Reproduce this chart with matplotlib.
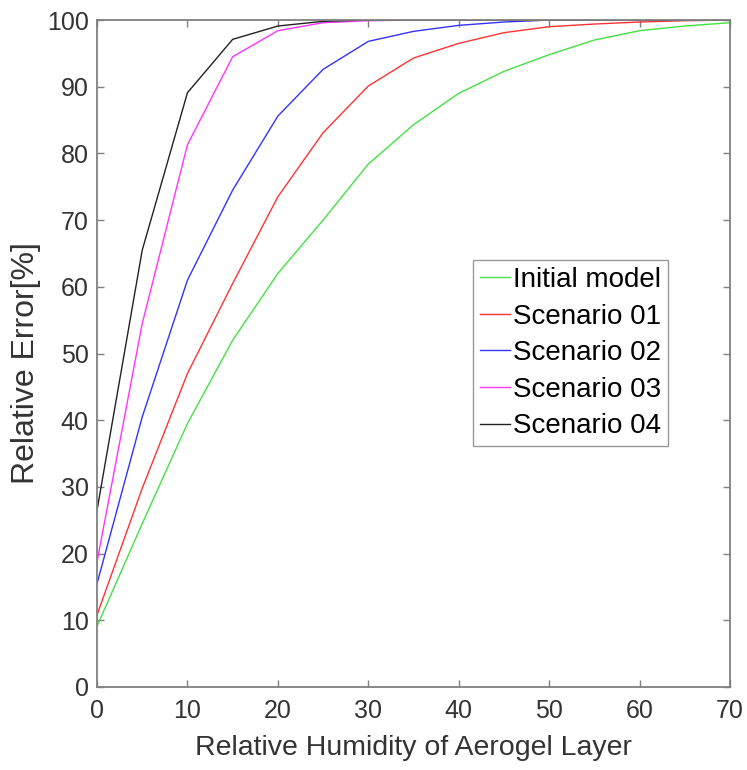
import numpy as np
import matplotlib
matplotlib.use("Agg")
import matplotlib.pyplot as plt

plt.rcParams['font.family'] = ['Liberation Sans', 'DejaVu Sans']

humidity = np.arange(0, 75, 5)

initial_model = [9.1, 24.5, 39.5, 52.0, 62.0, 70.0, 78.4, 84.3, 89.0, 92.3, 94.8, 97.0, 98.4, 99.1, 99.6]
scenario_01 = [10.8, 29.8, 47.0, 60.5, 73.5, 83.1, 90.1, 94.3, 96.5, 98.1, 99.0, 99.4, 99.7, 99.9, 100.0]
scenario_02 = [15.5, 40.5, 61.0, 74.5, 85.6, 92.6, 96.8, 98.3, 99.2, 99.7, 100.0, 100.0, 100.0, 100.0, 100.0]
scenario_03 = [18.8, 54.5, 81.3, 94.5, 98.4, 99.6, 99.9, 100.0, 100.0, 100.0, 100.0, 100.0, 100.0, 100.0, 100.0]
scenario_04 = [26.5, 65.5, 89.1, 97.1, 99.1, 99.8, 100.0, 100.0, 100.0, 100.0, 100.0, 100.0, 100.0, 100.0, 100.0]

series = [
    ('Initial model', initial_model, '#44e044'),
    ('Scenario 01', scenario_01, '#ff3333'),
    ('Scenario 02', scenario_02, '#3333ff'),
    ('Scenario 03', scenario_03, '#ff33ff'),
    ('Scenario 04', scenario_04, '#222222'),
]

fig = plt.figure(figsize=(7.47, 7.70), dpi=100)
ax = fig.add_axes([0.1299, 0.1078, 0.8473, 0.8662])

for name, vals, col in series:
    ax.plot(humidity, vals, color=col, lw=1.0, label=name)

ax.set_xlim(0, 70)
ax.set_ylim(0, 100)
ax.set_xticks(np.arange(0, 80, 10))
ax.set_yticks(np.arange(0, 110, 10))

for sp in ax.spines.values():
    sp.set_color('#808080')
    sp.set_linewidth(1.3)
ax.tick_params(direction='in', length=5, width=1, colors='#808080',
               labelcolor='#333333', labelsize=18, top=True, right=True)
ax.tick_params(axis='x', pad=9)
ax.tick_params(axis='y', pad=6)

ax.set_xlabel('Relative Humidity of Aerogel Layer', fontsize=20.5, color='#333333', labelpad=8)
ax.set_ylabel('Relative Error[%]', fontsize=23, color='#333333')
ax.yaxis.set_label_coords(-0.088, 0.485)

leg = ax.legend(loc='lower right', bbox_to_anchor=(0.902, 0.361), borderaxespad=0,
                fontsize=20, frameon=True, fancybox=False, handlelength=1.1,
                handletextpad=0.1, labelspacing=0.38, borderpad=0.25)
leg.get_frame().set_edgecolor('#808080')
leg.get_frame().set_linewidth(1.0)

fig.savefig('out.png', dpi=100)
